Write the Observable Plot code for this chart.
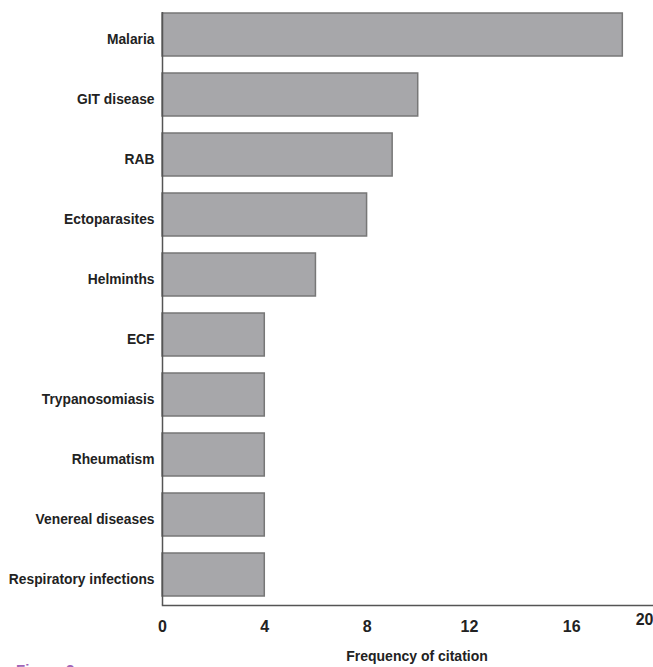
<!DOCTYPE html>
<html>
<head>
<meta charset="utf-8">
<script src="https://cdn.jsdelivr.net/npm/d3@7"></script>
<script src="https://cdn.jsdelivr.net/npm/@observablehq/plot@0.6"></script>
<style>
  html, body { margin: 0; padding: 0; background: #fff; overflow: hidden; }
  #chart svg { display: block; }
  .caption { position: relative; font-family: "Liberation Sans", Arial, sans-serif; font-weight: bold; font-size: 15px; color: #a065b8; margin: -5px 0 0 16px; line-height: 15px; }
</style>
</head>
<body>
<div id="chart"></div>
<div class="caption">Figure 2</div>
<script>
const diseases = ["Malaria","GIT disease","RAB","Ectoparasites","Helminths","ECF","Trypanosomiasis","Rheumatism","Venereal diseases","Respiratory infections"];
const citations = [18,10,9,8,6,4,4,4,4,4];
const xTicks = [0,4,8,12,16];
const edgeTickLabel = ["20"];
const xMax = 19.2;
const xLabel = ["Frequency of citation"];

const data = diseases.map((d, i) => ({disease: d, value: citations[i]}));
const font = "'Liberation Sans', Arial, sans-serif";

const chart = Plot.plot({
  width: 653,
  height: 667,
  marginLeft: 162,
  marginRight: 0,
  marginTop: 5,
  marginBottom: 62,
  style: {fontFamily: font, background: "#fff", color: "#222"},
  x: {domain: [0, xMax]},
  y: {domain: diseases, paddingInner: 0.28, paddingOuter: 0.14},
  marks: [
    Plot.barX(data, {x: "value", y: "disease", fill: "#a7a7aa", stroke: "#777", strokeWidth: 1.5}),
    Plot.ruleX([0], {stroke: "#555", strokeWidth: 1.5, insetTop: 7}),
    Plot.frame({anchor: "bottom", stroke: "#555", strokeWidth: 1.5}),
    Plot.axisY({tickSize: 0, tickPadding: 8, dy: 5, fontSize: 13.8, fontWeight: "bold", label: null, fill: "#222"}),
    Plot.axisX({ticks: xTicks, tickSize: 0, tickPadding: 15, fontSize: 16, fontWeight: "bold", fill: "#222", label: null}),
    Plot.text(edgeTickLabel, {frameAnchor: "bottom-right", textAnchor: "end", dx: 0, dy: 19, fontSize: 16, fontWeight: "bold", fill: "#222"}),
    Plot.text(xLabel, {frameAnchor: "bottom", dx: 9, dy: 55, fontSize: 14, fontWeight: "bold", fill: "#222"})
  ]
});
document.getElementById("chart").appendChild(chart);
</script>
</body>
</html>
